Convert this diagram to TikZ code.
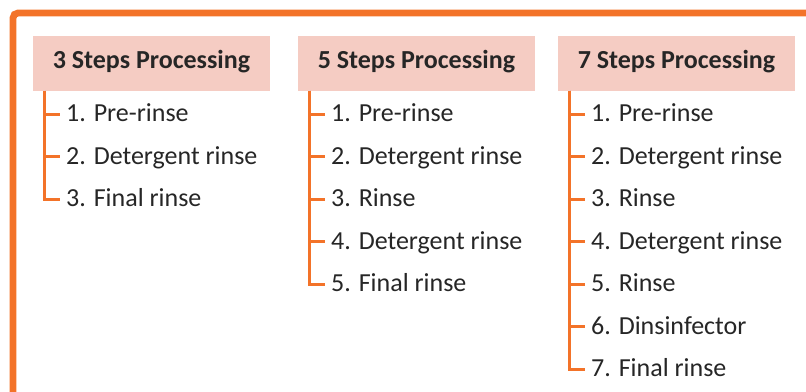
\documentclass[tikz,border=0pt]{standalone}
\usepackage{fontspec}
\setmainfont{Carlito}
\definecolor{frameorange}{HTML}{F37329}
\definecolor{headfill}{HTML}{F5CCC3}
\definecolor{txt}{HTML}{262626}

\begin{document}
\begin{tikzpicture}[x=1pt,y=-1pt,
  head/.style={fill=headfill, minimum width=237pt, minimum height=54.5pt,
    inner sep=0pt, text height=16pt, text depth=6.8pt,
    font=\fontsize{26}{30}\selectfont\bfseries, text=txt},
  item/.style={anchor=base west, inner sep=0pt,
    font=\fontsize{26}{30}\selectfont, text=txt},
  branch/.style={draw=frameorange, line width=3.3pt}]
\useasboundingbox (0,0) rectangle (806,391);

% outer frame, running off the right and bottom edges
\begin{scope}
  \clip (0,0) rectangle (806,391);
  \draw[frameorange, line width=6.8pt, rounded corners=5pt] (13,13) rectangle (840,430);
\end{scope}

% column headers
\node[head] (h1) at (151.5,63.4) {3 Steps Processing};
\node[head] (h2) at (416.5,63.4) {5 Steps Processing};
\node[head] (h3) at (676.5,63.4) {7 Steps Processing};

% 3 steps
\node[item] (a1) at (66,121.5) {1. Pre-rinse};
\node[item] (a2) at (66,164)   {2. Detergent rinse};
\node[item] (a3) at (66,206.5) {3. Final rinse};

% 5 steps
\node[item] (b1) at (331,121.5) {1. Pre-rinse};
\node[item] (b2) at (331,164)   {2. Detergent rinse};
\node[item] (b3) at (331,206.5) {3. Rinse};
\node[item] (b4) at (331,249)   {4. Detergent rinse};
\node[item] (b5) at (331,291.5) {5. Final rinse};

% 7 steps
\node[item] (c1) at (591,121.5) {1. Pre-rinse};
\node[item] (c2) at (591,164)   {2. Detergent rinse};
\node[item] (c3) at (591,206.5) {3. Rinse};
\node[item] (c4) at (591,249)   {4. Detergent rinse};
\node[item] (c5) at (591,291.5) {5. Rinse};
\node[item] (c6) at (591,334)   {6. Dinsinfector};
\node[item] (c7) at (591,376.5) {7. Final rinse};

% tree connectors from each header to its steps
\foreach \n in {1,2,3}
  \draw[branch] ([xshift=11.5pt]h1.south west) |- ([xshift=-6.5pt,yshift=7.2pt]a\n.base west);
\foreach \n in {1,...,5}
  \draw[branch] ([xshift=12pt]h2.south west) |- ([xshift=-6.5pt,yshift=7.2pt]b\n.base west);
\foreach \n in {1,...,7}
  \draw[branch] ([xshift=12pt]h3.south west) |- ([xshift=-6.5pt,yshift=7.2pt]c\n.base west);
\end{tikzpicture}
\end{document}
